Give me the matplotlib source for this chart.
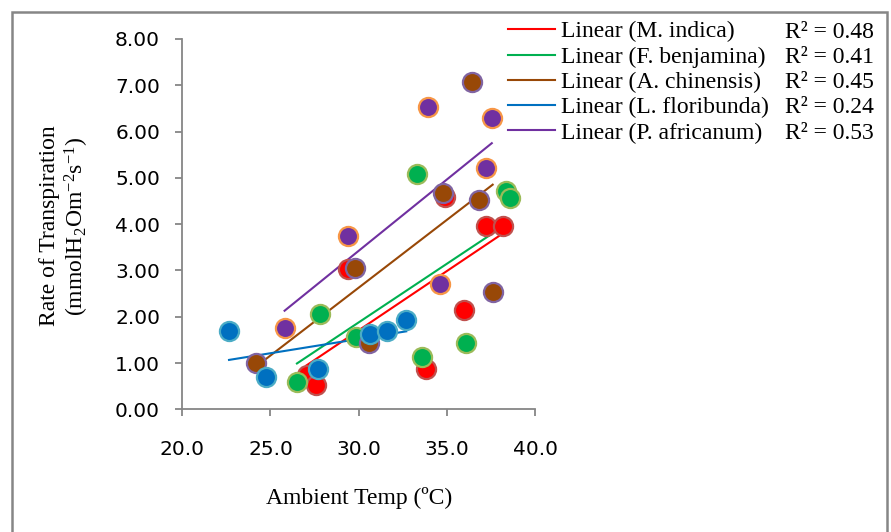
import numpy as np
import matplotlib
matplotlib.use('Agg')
import matplotlib.pyplot as plt
from matplotlib.patches import Rectangle

plt.rcParams['mathtext.fontset'] = 'custom'
plt.rcParams['mathtext.rm'] = 'Liberation Serif'
plt.rcParams['mathtext.default'] = 'regular'

# Datos (temperatura ambiente, tasa de transpiracion)
especies = ['M. indica', 'F. benjamina', 'A. chinensis', 'L. floribunda', 'P. africanum']
r2_textos = ['R² = 0.48', 'R² = 0.41', 'R² = 0.45', 'R² = 0.24', 'R² = 0.53']

temp_indica = [29.4, 34.9, 37.2, 38.2, 36.0, 33.8, 27.05, 27.6]
trans_indica = [3.03, 4.59, 3.97, 3.97, 2.15, 0.86, 0.74, 0.52]

temp_benjamina = [33.3, 38.35, 38.6, 27.8, 29.85, 33.6, 36.1, 26.5]
trans_benjamina = [5.08, 4.72, 4.57, 2.06, 1.56, 1.12, 1.43, 0.58]

temp_chinensis = [36.45, 34.8, 36.8, 37.6, 29.8, 30.6, 24.2]
trans_chinensis = [7.08, 4.68, 4.52, 2.54, 3.05, 1.44, 1.01]

temp_floribunda = [22.65, 24.75, 27.7, 30.65, 31.6, 32.7]
trans_floribunda = [1.69, 0.70, 0.87, 1.62, 1.70, 1.92]

temp_africanum = [33.95, 37.55, 37.2, 34.6, 29.4, 25.8]
trans_africanum = [6.54, 6.29, 5.22, 2.70, 3.74, 1.75]

temps = [temp_indica, temp_benjamina, temp_chinensis, temp_floribunda, temp_africanum]
trans = [trans_indica, trans_benjamina, trans_chinensis, trans_floribunda, trans_africanum]

colores = ['#FF0000', '#00B050', '#984807', '#0070C0', '#7030A0']
bordes = ['#C0504D', '#9BBB59', '#8064A2', '#4BACC6', '#F79646']

fig = plt.figure(figsize=(8.91, 5.32), dpi=100)
ax = fig.add_axes([182.3/891, 122.7/532, 352.7/891, 370.3/532])

lineas = []
for i in range(5):
    x = np.array(temps[i])
    y = np.array(trans[i])
    # Linea de tendencia (regresion lineal)
    m, b = np.polyfit(x, y, 1)
    xs = np.array([x.min(), x.max()])
    l, = ax.plot(xs, m*xs + b, color=colores[i], lw=1.5, zorder=2,
                 label='Linear (' + especies[i] + ')')
    lineas.append(l)

for i in range(5):
    ax.scatter(temps[i], trans[i], s=190, c=colores[i], edgecolors=bordes[i],
               linewidths=1.6, zorder=3, clip_on=False)

ax.set_xlim(20, 40)
ax.set_ylim(0, 8)
ax.set_xticks([20, 25, 30, 35, 40])
ax.set_xticklabels([f'{v:.1f}' for v in [20, 25, 30, 35, 40]])
ax.set_yticks(range(9))
ax.set_yticklabels([f'{v:.2f}' for v in range(9)])

for s in ['top', 'right']:
    ax.spines[s].set_visible(False)
for s in ['left', 'bottom']:
    ax.spines[s].set_color('#868686')
    ax.spines[s].set_linewidth(1.3)
ax.tick_params(axis='both', direction='out', length=5, width=1.3, color='#868686',
               labelsize=14.5, labelcolor='black')
ax.tick_params(axis='y', pad=11)
ax.tick_params(axis='x', pad=17)

ax.set_xlabel('Ambient Temp (ºC)', family='Liberation Serif', fontsize=17, labelpad=20)
fig.text(65/891, 1 - 226/532, 'Rate of Transpiration\n(mmolH$_2$Om$^{-2}$s$^{-1}$)',
         family='Liberation Serif', fontsize=17, rotation=90, ha='center', va='center',
         linespacing=1.1, multialignment='center')

leg = fig.legend(handles=lineas, loc='upper left', bbox_to_anchor=(508/891, 1 - 21/532),
                 bbox_transform=fig.transFigure, frameon=False, borderpad=0,
                 borderaxespad=0, labelspacing=0.16, handlelength=2.0,
                 handletextpad=0.25, prop={'family': 'Liberation Serif', 'size': 17})

# Valores R2 alineados con cada fila de la leyenda
fig.canvas.draw()
inv = fig.transFigure.inverted()
for t, r2 in zip(leg.get_texts(), r2_textos):
    bb = t.get_window_extent()
    x0, y0 = inv.transform((785, bb.y0))
    fig.text(x0, y0, r2, family='Liberation Serif', fontsize=17, ha='left', va='bottom')

# Borde exterior del grafico
fig.patches.append(Rectangle((12/891, -0.1), 875/891, 1.1 - 12/532, transform=fig.transFigure,
                             fill=False, edgecolor='#868686', lw=1.8, clip_on=False))

fig.savefig('out.png', dpi=100)
